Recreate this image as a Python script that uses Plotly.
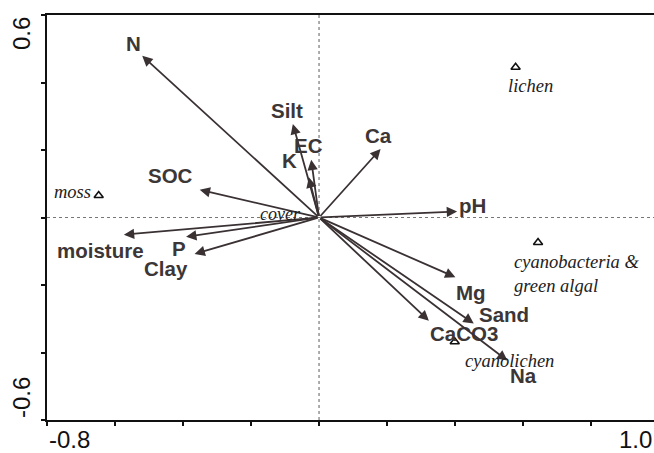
import plotly.graph_objects as go

# Environmental variable vectors (arrow tips, RDA axis 1 / axis 2)
env_names = ["N", "Silt", "EC", "K", "SOC", "Ca", "pH", "moisture", "P", "Clay",
             "Mg", "Sand", "CaCO3", "Na"]
env_x = [-0.520, -0.077, -0.023, -0.030, -0.351, 0.181, 0.406, -0.574, -0.391, -0.366,
         0.401, 0.455, 0.323, 0.554]
env_y = [0.479, 0.277, 0.171, 0.119, 0.082, 0.203, 0.018, -0.051, -0.057, -0.108,
         -0.177, -0.314, -0.306, -0.424]
# label anchor points for vectors
env_lx = [-0.546, -0.094, -0.031, -0.087, -0.437, 0.175, 0.451, -0.643, -0.413, -0.449,
          0.446, 0.543, 0.425, 0.601]
env_ly = [0.515, 0.316, 0.213, 0.168, 0.124, 0.242, 0.035, -0.098, -0.092, -0.152,
          -0.223, -0.288, -0.344, -0.469]

# cover (near origin)
cover_name = "cover"
cover_lx = -0.113
cover_ly = 0.011

# Species groups (triangles)
sp_names = ["moss", "lichen", "cyanobacteria &<br>green algal", "cyanolichen"]
sp_x = [-0.648, 0.578, 0.644, 0.399]
sp_y = [0.065, 0.445, -0.074, -0.368]
sp_lx = [-0.725, 0.622, 0.756, 0.560]
sp_ly = [0.076, 0.391, -0.168, -0.424]

x_range = [-0.8, 0.985]
y_range = [-0.6, 0.6]
tick_vals = [-0.8, -0.6, -0.4, -0.2, 0.0, 0.2, 0.4, 0.6, 0.8, 1.0]
ytick_vals = [-0.6, -0.4, -0.2, 0.0, 0.2, 0.4, 0.6]

ARROW = "#3a3133"
TXT = "#3d3637"
SANS = "Liberation Sans, Arial, sans-serif"
SERIF = "Liberation Serif, Times New Roman, serif"

fig = go.Figure()

fig.add_trace(go.Scatter(
    x=sp_x, y=sp_y, mode="markers",
    marker=dict(symbol="triangle-up-open", size=8, color="#111111",
                line=dict(width=1.6, color="#111111")),
    hoverinfo="skip", showlegend=False))

annotations = []
for name, x, y, lx, ly in zip(env_names, env_x, env_y, env_lx, env_ly):
    annotations.append(dict(
        x=x, y=y, ax=0, ay=0, xref="x", yref="y", axref="x", ayref="y",
        text="", showarrow=True, arrowhead=2, arrowsize=1.15, arrowwidth=1.8,
        arrowcolor=ARROW, standoff=0, startstandoff=0))
    annotations.append(dict(
        x=lx, y=ly, xref="x", yref="y", text="<b>%s</b>" % name, showarrow=False,
        font=dict(family=SANS, size=20.5, color=TXT), xanchor="center", yanchor="middle"))

annotations.append(dict(
    x=cover_lx, y=cover_ly, xref="x", yref="y", text="<i>%s</i>" % cover_name,
    showarrow=False, font=dict(family=SERIF, size=18, color="#222222"),
    xanchor="center", yanchor="middle"))

for name, lx, ly in zip(sp_names, sp_lx, sp_ly):
    annotations.append(dict(
        x=lx, y=ly, xref="x", yref="y", text="<i>%s</i>" % name, showarrow=False,
        font=dict(family=SERIF, size=18.5, color="#222222"),
        xanchor="center", yanchor="middle", align="left"))

# axis end labels
annotations += [
    dict(x=0, y=0, xref="paper", yref="paper", yshift=-4, text="-0.8", showarrow=False,
         xanchor="left", yanchor="top", font=dict(family=SANS, size=24, color="#111111")),
    dict(x=1, y=0, xref="paper", yref="paper", yshift=-4, text="1.0", showarrow=False,
         xanchor="right", yanchor="top", font=dict(family=SANS, size=24, color="#111111")),
    dict(x=0, y=1, xref="paper", yref="paper", xshift=-10, text="0.6", showarrow=False,
         textangle=-90, xanchor="right", yanchor="top",
         font=dict(family=SANS, size=24, color="#111111")),
    dict(x=0, y=0, xref="paper", yref="paper", xshift=-10, text="-0.6", showarrow=False,
         textangle=-90, xanchor="right", yanchor="bottom",
         font=dict(family=SANS, size=24, color="#111111")),
]

shapes = [
    dict(type="line", xref="x", yref="paper", x0=0, x1=0, y0=0, y1=1,
         line=dict(color="#777777", width=1.2, dash="dot"), layer="below"),
    dict(type="line", xref="paper", yref="y", x0=0, x1=1, y0=0, y1=0,
         line=dict(color="#777777", width=1.2, dash="dot"), layer="below"),
]

fig.update_layout(
    width=654, height=453,
    margin=dict(l=47, r=0, t=15, b=33),
    plot_bgcolor="white", paper_bgcolor="white",
    annotations=annotations, shapes=shapes,
    xaxis=dict(range=x_range, showgrid=False, zeroline=False, showline=True,
               linecolor="#111111", linewidth=2.2, mirror=True,
               ticks="outside", ticklen=4, tickwidth=1.5, tickcolor="#111111",
               tickvals=tick_vals, showticklabels=False),
    yaxis=dict(range=y_range, showgrid=False, zeroline=False, showline=True,
               linecolor="#111111", linewidth=2.2,
               ticks="outside", ticklen=4, tickwidth=1.5, tickcolor="#111111",
               tickvals=ytick_vals, showticklabels=False),
)

fig.write_html("out.html",
               config={"displayModeBar": False},
               post_script="document.body.style.margin='0';"
                           "document.body.style.overflow='hidden';")
